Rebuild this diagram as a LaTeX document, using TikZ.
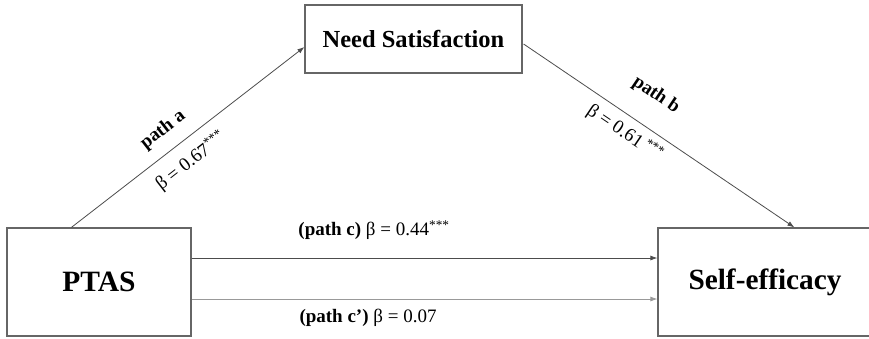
\documentclass[tikz,border=0pt]{standalone}
\usepackage{fontspec}
\setmainfont{Liberation Serif}
\usetikzlibrary{arrows.meta,calc}
\begin{document}
\begin{tikzpicture}[x=1pt,y=-1pt,
  box/.style={draw=black!60,line width=1.2pt,rectangle,inner sep=0pt,fill=white},
  conn/.style={draw=black!70,line width=0.8pt,-{Latex[length=7pt,width=5pt]}},
  lab/.style={font=\fontsize{19}{22}\selectfont,inner sep=0pt}]
\useasboundingbox (0,0) rectangle (869,338);
\node[box,minimum width=184pt,minimum height=108pt,font=\fontsize{29.5}{33}\selectfont\bfseries] (ptas) at (99,282) {PTAS};
\node[box,minimum width=214pt,minimum height=108pt,font=\fontsize{29.3}{33}\selectfont\bfseries] (se) at (765,282) {Self-efficacy};
\node[box,minimum width=217pt,minimum height=68pt,font=\fontsize{24.5}{28}\selectfont\bfseries] (ns) at (413.5,39) {Need Satisfaction};
% paths
\draw[conn] ($(ptas.north west)+(65,0)$) -- ($(ns.west)+(0,8)$);
\draw[conn] ($(ns.east)+(1,5)$) -- ($(se.north west)+(137,0)$);
\draw[conn] ($(ptas.east)+(0,-24)$) -- ($(se.west)+(0,-24)$);
\draw[conn,draw=black!40] ($(ptas.east)+(0,17)$) -- ($(se.west)+(0,17)$);
% labels
\node[lab,rotate=37.8] (la1) at (163,130) {\bfseries path a};
\node[lab,rotate=37.8] (la2) at (191,161) {β = 0.67\textsuperscript{***}};
\node[lab,rotate=-34] (lb1) at (656,95) {\bfseries path b};
\node[lab,rotate=-34] (lb2) at (625,133) {β = 0.61\,\textsuperscript{***}};
\node[lab] (lc) at (374,230) {\textbf{(path c)} β = 0.44\textsuperscript{***}};
\node[lab] (lcp) at (368,318) {\textbf{(path c’)} β = 0.07};
\end{tikzpicture}
\end{document}
